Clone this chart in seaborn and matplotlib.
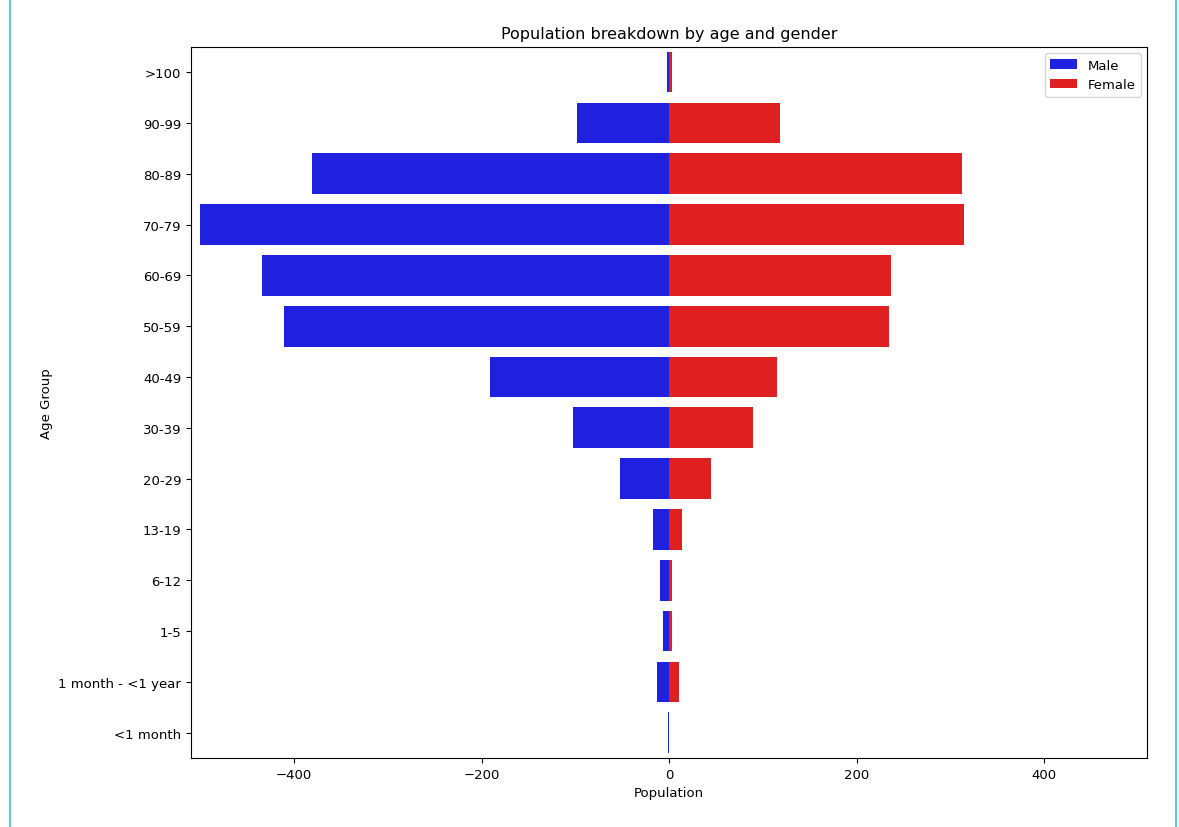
import matplotlib
matplotlib.use('Agg')
import matplotlib.pyplot as plt
import seaborn as sns
import pandas as pd
from matplotlib.lines import Line2D

# 연령대 (위에서 아래 순서)
age_groups = ['>100', '90-99', '80-89', '70-79', '60-69', '50-59', '40-49',
              '30-39', '20-29', '13-19', '6-12', '1-5', '1 month - <1 year', '<1 month']
male = [-2, -98, -381, -500, -434, -411, -191, -103, -52, -17, -10, -6, -13, -1]
female = [3, 118, 313, 315, 237, 235, 115, 90, 45, 14, 3, 3, 11, 0]

df = pd.DataFrame({'Age Group': age_groups, 'Male': male, 'Female': female})

fig = plt.figure(figsize=(11.79, 8.28), dpi=100)
ax = fig.add_axes([0.162, 0.0833, 0.811, 0.859])

sns.barplot(x='Male', y='Age Group', data=df, order=age_groups, color='blue', label='Male', ax=ax)
sns.barplot(x='Female', y='Age Group', data=df, order=age_groups, color='red', label='Female', ax=ax)

ax.set_xlim(-510, 510)
ax.set_title('Population breakdown by age and gender', fontsize=11.5)
ax.set_xlabel('Population', fontsize=9.5)
ax.set_ylabel('Age Group', fontsize=9.5)
ax.tick_params(labelsize=9.5)
ax.legend(loc='upper right', fontsize=9.5)

# 노트북 셀 테두리
fig.add_artist(Line2D([0.0085, 0.0085], [0, 1], color='#5bc8dc', lw=1.5))
fig.add_artist(Line2D([0.9975, 0.9975], [0, 1], color='#5bc8dc', lw=1.5))

fig.savefig('out.png', dpi=100)
